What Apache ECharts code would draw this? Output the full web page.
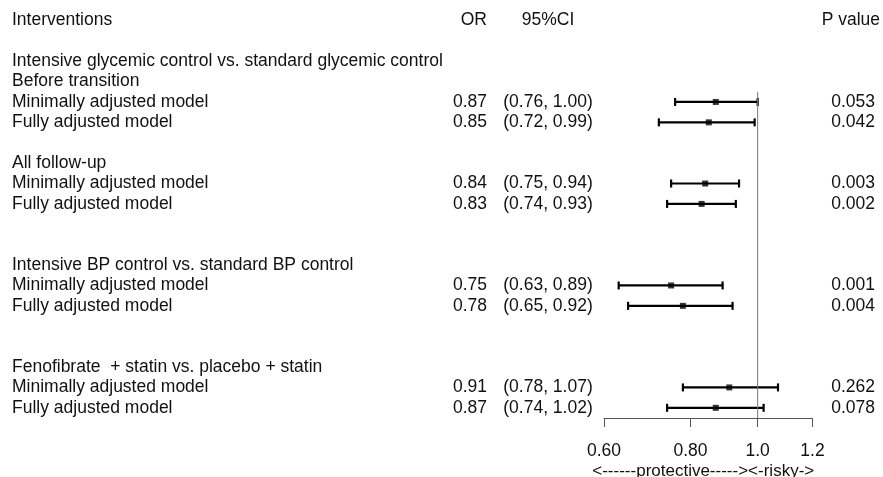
<!DOCTYPE html>
<html>
<head>
<meta charset="utf-8">
<script src="https://cdn.jsdelivr.net/npm/echarts@6/dist/echarts.min.js"></script>
<style>html,body{margin:0;padding:0;background:#fff;}#c{width:883px;height:477px;}</style>
</head>
<body>
<div id="c"></div>
<script>
// ---- data ----
var rowLabels = ['Interventions', '', 'Intensive glycemic control vs. standard glycemic control', 'Before transition',
  'Minimally adjusted model', 'Fully adjusted model', '', 'All follow-up', 'Minimally adjusted model', 'Fully adjusted model',
  '', '', 'Intensive BP control vs. standard BP control', 'Minimally adjusted model', 'Fully adjusted model', '', '',
  'Fenofibrate  + statin vs. placebo + statin', 'Minimally adjusted model', 'Fully adjusted model'];
var estRows = [4, 5, 8, 9, 13, 14, 18, 19];
var orValues = [0.87, 0.85, 0.84, 0.83, 0.75, 0.78, 0.91, 0.87];
var ciLower = [0.76, 0.72, 0.75, 0.74, 0.63, 0.65, 0.78, 0.74];
var ciUpper = [1.00, 0.99, 0.94, 0.93, 0.89, 0.92, 1.07, 1.02];
var pValues = ['0.053', '0.042', '0.003', '0.002', '0.001', '0.004', '0.262', '0.078'];
var headers = {or: 'OR', ci: '95%CI', p: 'P value'};
var tickValues = [0.6, 0.8, 1.0, 1.2];
var tickLabels = ['0.60', '0.80', '1.0', '1.2'];
var axisName = '<------protective-----><-risky->';
var refValue = 1.0;

// ---- build ----
var ln = Math.log;
var nRows = rowLabels.length;
var orCol = [], ciCol = [], pCol = [];
for (var i = 0; i < nRows; i++) { orCol.push(''); ciCol.push(''); pCol.push(''); }
orCol[0] = headers.or; ciCol[0] = headers.ci; pCol[0] = '{h|' + headers.p + '}';
estRows.forEach(function (r, k) {
  orCol[r] = orValues[k].toFixed(2);
  ciCol[r] = '(' + ciLower[k].toFixed(2) + ', ' + ciUpper[k].toFixed(2) + ')';
  pCol[r] = '{v|' + pValues[k] + '}';
});
var cats = rowLabels.map(function (_, i) { return i; });
var FONT = "'Liberation Sans', Arial, sans-serif";
var FS = 17.5;
var TXT = '#111';
function labelAxis(labels, pos, margin, align, rich) {
  return {
    type: 'category', data: cats, inverse: true, position: pos,
    axisLine: {show: false}, axisTick: {show: false}, splitLine: {show: false},
    axisLabel: {
      interval: 0, margin: margin, align: align, fontSize: FS, color: TXT, fontFamily: FONT,
      formatter: function (v, idx) { return labels[idx]; }, rich: rich || {}
    }
  };
}
var errData = estRows.map(function (r, k) { return [ln(ciLower[k]), ln(ciUpper[k]), r]; });
var ptData = estRows.map(function (r, k) { return [ln(orValues[k]), r]; });
var lnTicks = tickValues.map(function (v) { return ln(v); });

var chart = echarts.init(document.getElementById('c'));
chart.setOption({
  animation: false,
  backgroundColor: '#fff',
  textStyle: {fontFamily: FONT},
  grid: {left: 604, right: 70.5, top: 10.2, bottom: 59, containLabel: false, outerBoundsMode: 'none'},
  xAxis: {
    type: 'value', position: 'bottom', min: ln(tickValues[0]), max: ln(tickValues[tickValues.length - 1]),
    axisLine: {show: true, onZero: false, lineStyle: {color: '#555', width: 1}},
    axisTick: {show: true, length: 9, lineStyle: {color: '#555'}, customValues: lnTicks},
    axisLabel: {
      customValues: lnTicks, margin: 24, fontSize: FS, color: TXT, fontFamily: FONT,
      formatter: function (v) {
        for (var i = 0; i < lnTicks.length; i++) if (Math.abs(lnTicks[i] - v) < 1e-6) return tickLabels[i];
        return '';
      }
    },
    splitLine: {show: false},
    name: axisName, nameLocation: 'middle', nameGap: 45, nameMoveOverlap: false,
    nameTextStyle: {fontSize: 17, color: TXT, fontFamily: FONT, padding: [0, 10, 0, 0]}
  },
  yAxis: [
    labelAxis(rowLabels, 'left', 592, 'left'),
    labelAxis(orCol, 'left', 117, 'right'),
    labelAxis(ciCol, 'left', 56, 'center'),
    labelAxis(pCol, 'right', 67.5, 'right', {
      h: {fontSize: FS, color: TXT, fontFamily: FONT},
      v: {fontSize: FS, color: TXT, fontFamily: FONT, padding: [0, 5, 0, 0]}
    }),
    {type: 'value', min: 0, max: nRows, inverse: true, show: false}
  ],
  series: [
    {
      type: 'line', xAxisIndex: 0, yAxisIndex: 4, symbol: 'none', silent: true,
      data: [[ln(refValue), estRows[0]], [ln(refValue), nRows]],
      lineStyle: {color: '#777', width: 1}
    },
    {
      type: 'custom', xAxisIndex: 0, yAxisIndex: 0, data: errData,
      encode: {x: [0, 1], y: 2},
      renderItem: function (params, api) {
        var y = api.value(2);
        var a = api.coord([api.value(0), y]);
        var b = api.coord([api.value(1), y]);
        var h = 4;
        var st = {stroke: '#000', lineWidth: 2.2};
        return {type: 'group', children: [
          {type: 'line', shape: {x1: a[0], y1: a[1], x2: b[0], y2: b[1]}, style: st},
          {type: 'line', shape: {x1: a[0], y1: a[1] - h, x2: a[0], y2: a[1] + h}, style: st},
          {type: 'line', shape: {x1: b[0], y1: b[1] - h, x2: b[0], y2: b[1] + h}, style: st}
        ]};
      }
    },
    {
      type: 'scatter', xAxisIndex: 0, yAxisIndex: 0, data: ptData,
      symbol: 'rect', symbolSize: 6, itemStyle: {color: '#000'}, z: 5
    }
  ]
});
</script>
</body>
</html>
